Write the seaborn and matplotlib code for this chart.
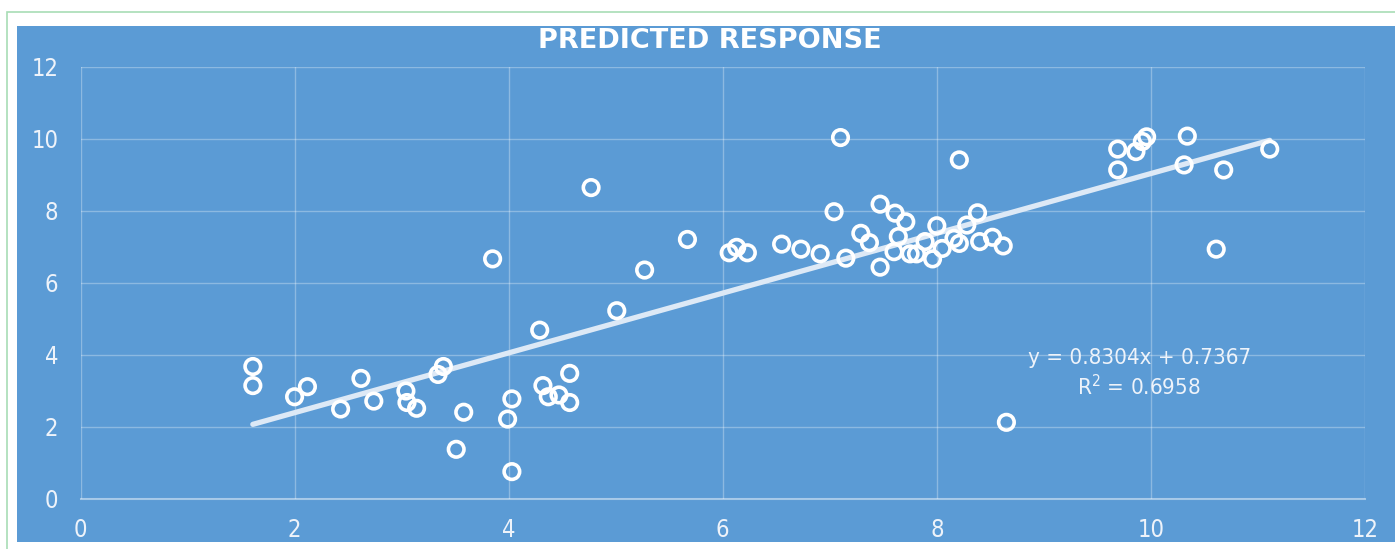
import numpy as np
import pandas as pd
import seaborn as sns
import matplotlib.pyplot as plt
from matplotlib.patches import Rectangle

sns.set_style("whitegrid")
plt.rcParams["font.family"] = ["DejaVu Sans"]
plt.rcParams["font.stretch"] = "condensed"

# values
actual = [1.61, 1.61, 2.00, 2.12, 2.43, 2.62, 2.74, 3.04, 3.05, 3.14,
          3.34, 3.39, 3.51, 3.58, 3.85, 3.99, 4.03, 4.03, 4.29, 4.32,
          4.37, 4.47, 4.57, 4.57, 4.77, 5.01, 5.27, 5.67, 6.06, 6.13,
          6.23, 6.55, 6.73, 6.91, 7.04, 7.10, 7.15, 7.29, 7.37, 7.47,
          7.47, 7.60, 7.61, 7.64, 7.71, 7.75, 7.81, 7.89, 7.96, 8.00,
          8.05, 8.16, 8.21, 8.21, 8.28, 8.38, 8.40, 8.52, 8.62, 8.65,
          9.69, 9.69, 9.86, 9.92, 9.96, 10.31, 10.34, 10.61, 10.68, 11.11]
predicted = [3.68, 3.15, 2.84, 3.12, 2.50, 3.35, 2.72, 3.00, 2.68, 2.52,
             3.46, 3.68, 1.38, 2.41, 6.67, 2.22, 2.78, 0.76, 4.69, 3.15,
             2.84, 2.89, 3.49, 2.68, 8.65, 5.23, 6.36, 7.21, 6.84, 6.99,
             6.84, 7.08, 6.94, 6.81, 7.98, 10.04, 6.69, 7.38, 7.12, 8.19,
             6.44, 6.87, 7.94, 7.29, 7.70, 6.81, 6.81, 7.15, 6.67, 7.59,
             6.96, 7.24, 7.10, 9.42, 7.61, 7.95, 7.15, 7.27, 7.03, 2.13,
             9.72, 9.14, 9.65, 9.93, 10.06, 9.28, 10.08, 6.94, 9.14, 9.72]
slope = 0.8304
intercept = 0.7367
r_squared = 0.6958

df = pd.DataFrame({"actual": actual, "predicted": predicted})

blue = "#5B9BD5"
W, H = 1395, 549

fig = plt.figure(figsize=(W / 100, H / 100), dpi=100, facecolor="white")
# green outer frame and blue chart area
fig.patches.append(Rectangle((7 / W, -0.05), 1.1, 1.05 - 12 / H, transform=fig.transFigure,
                             facecolor="white", edgecolor="#A8DDB5", linewidth=1.2, zorder=-2))
fig.patches.append(Rectangle((17 / W, 1 - 542 / H), 1 - 17 / W, (542 - 26) / H,
                             transform=fig.transFigure, facecolor=blue, edgecolor="none", zorder=-1))

ax = fig.add_axes([80.5 / W, 1 - 499 / H, (1365 - 80.5) / W, (499 - 67) / H])
ax.set_zorder(2)
ax.set_facecolor(blue)

# trendline
trend_x = np.array([df["actual"].min(), df["actual"].max()])
sns.lineplot(x=trend_x, y=slope * trend_x + intercept, ax=ax, color="#DDE9F6",
             linewidth=3.8, solid_capstyle="round", zorder=2)

sns.scatterplot(data=df, x="actual", y="predicted", ax=ax, s=125, marker="o",
                facecolor="none", edgecolor="white", linewidth=2.6, zorder=3)

ax.set_xlim(0, 12)
ax.set_ylim(0, 12)
ax.set_xticks(range(0, 13, 2))
ax.set_yticks(range(0, 13, 2))
ax.grid(True, color="white", alpha=0.3, linewidth=1)
for side in ["top", "right", "left"]:
    ax.spines[side].set_visible(False)
ax.spines["bottom"].set_color("white")
ax.spines["bottom"].set_alpha(0.45)
ax.spines["bottom"].set_linewidth(1.5)
ax.tick_params(axis="both", length=0, labelsize=17, labelcolor="#EEF3FA")
ax.tick_params(axis="y", pad=16)
ax.tick_params(axis="x", pad=14)
ax.set_xlabel("")
ax.set_ylabel("")

fig.text(710 / W, 1 - 41.5 / H, "PREDICTED RESPONSE",
         ha="center", va="center", color="white", fontsize=19.5, fontweight="bold",
         family="DejaVu Sans", fontstretch="normal", zorder=5)

ax.text(9.89, 3.93, f"y = {slope}x + {intercept}", ha="center", va="center",
        color="#EEF3FA", fontsize=16)
ax.text(9.89, 3.13, f"R$^2$ = {r_squared}", ha="center", va="center",
        color="#EEF3FA", fontsize=16)

fig.savefig("out.png", dpi=100, facecolor="white")
